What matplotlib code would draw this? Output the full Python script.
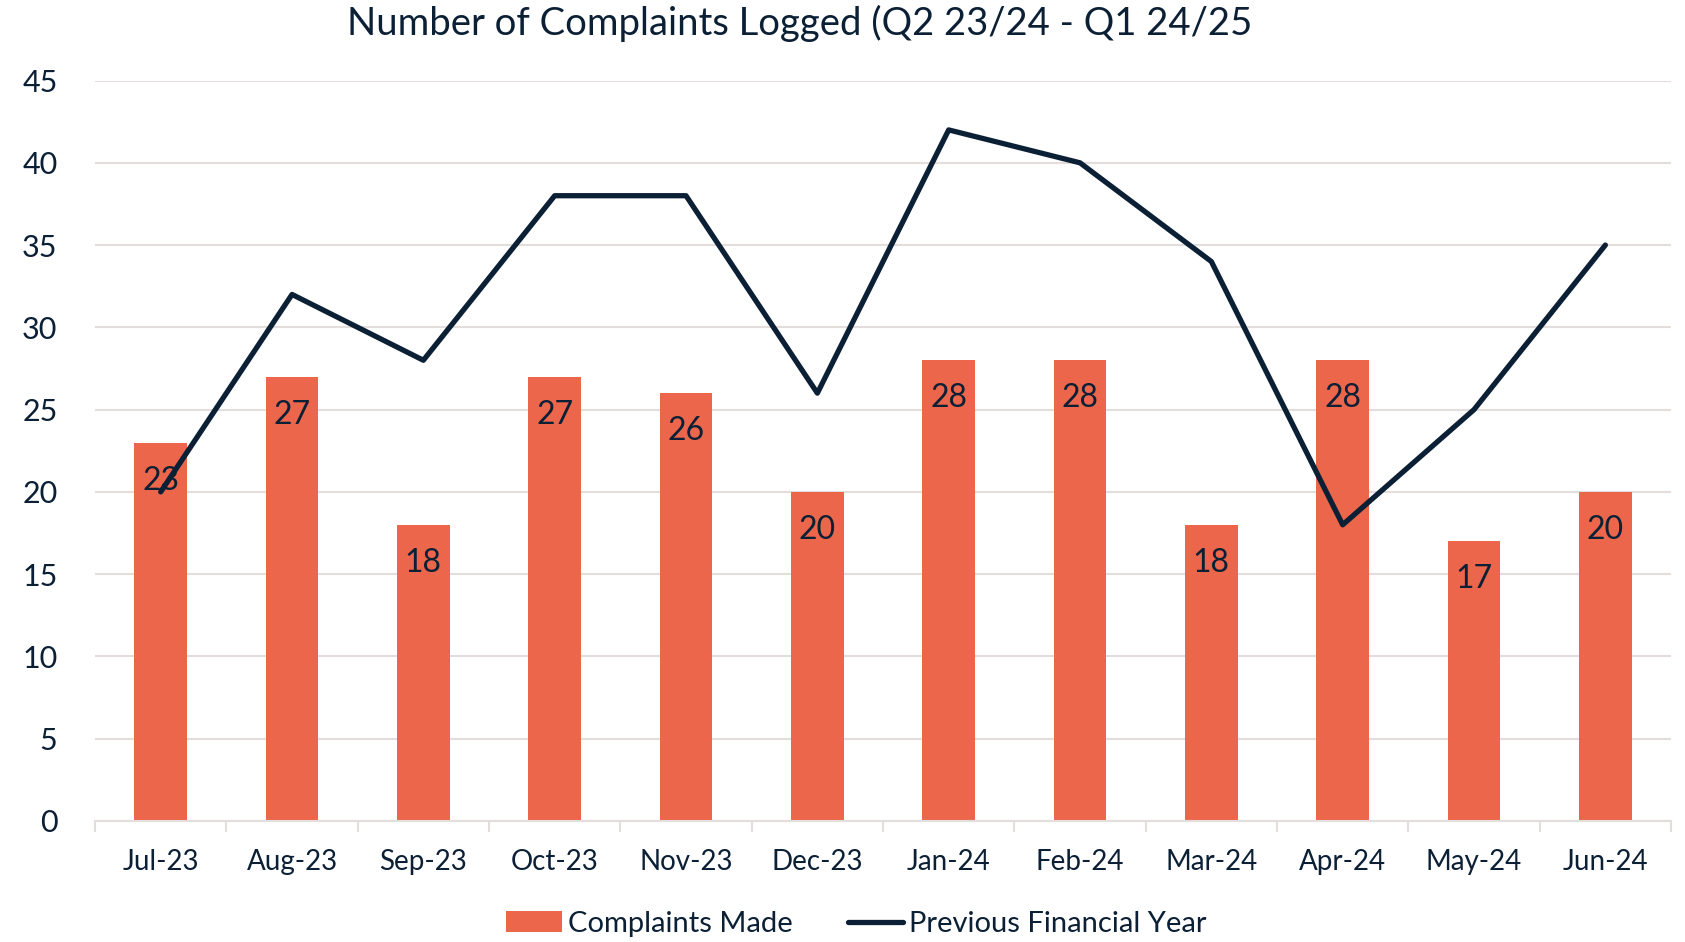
import matplotlib

matplotlib.use("Agg")
import matplotlib.pyplot as plt
import numpy as np

# data
months = ["Jul-23", "Aug-23", "Sep-23", "Oct-23", "Nov-23", "Dec-23",
          "Jan-24", "Feb-24", "Mar-24", "Apr-24", "May-24", "Jun-24"]
complaints = [23, 27, 18, 27, 26, 20, 28, 28, 18, 28, 17, 20]
prev_year = [20, 32, 28, 38, 38, 26, 42, 40, 34, 18, 25, 35]
y_ticks = [0, 5, 10, 15, 20, 25, 30, 35, 40, 45]

BAR = "#EC664B"
NAVY = "#0B1F35"
GRID = "#E3DEDB"

plt.rcParams["font.family"] = ["Lato", "DejaVu Sans"]

fig = plt.figure(figsize=(16.85, 9.42), dpi=100)
ax = fig.add_axes([0.0564, 0.1285, 0.9353, 0.786])

x = np.arange(len(months))
bars = ax.bar(x, complaints, width=0.4, color=BAR, zorder=2, label="Complaints Made")
line, = ax.plot(x, prev_year, color=NAVY, lw=3.8, zorder=3, solid_capstyle="round",
                label="Previous Financial Year")

for xi, v in zip(x, complaints):
    ax.annotate(str(v), (xi, v), xytext=(0, -34), textcoords="offset points",
                ha="center", va="baseline", fontsize=23, color=NAVY, zorder=4)

ax.set_xlim(-0.5, len(months) - 0.5)
ax.set_ylim(0, 45)
ax.set_yticks(y_ticks)
ax.set_xticks(x)
ax.set_xticklabels(months)
ax.set_xticks(np.arange(-0.5, len(months)), minor=True)
ax.yaxis.grid(True, color=GRID, lw=1.5, zorder=0)
ax.set_axisbelow(True)

for s in ["left", "right", "top"]:
    ax.spines[s].set_visible(False)
ax.spines["bottom"].set_color(GRID)
ax.spines["bottom"].set_linewidth(1.5)

ax.tick_params(axis="y", length=0, pad=27, labelsize=22, labelcolor=NAVY)
ax.tick_params(axis="x", which="major", length=0, pad=20, labelsize=20, labelcolor=NAVY)
ax.tick_params(axis="x", which="minor", length=8, width=1.5, color=GRID)

fig.text(744 / 1568, 0.975, "Number of Complaints Logged (Q2 23/24 - Q1 24/25",
         ha="center", va="center", fontsize=27.5, color=NAVY)

leg = fig.legend([bars, line], ["Complaints Made", "Previous Financial Year"],
                 loc="center", bbox_to_anchor=(797 / 1568, 1 - 860 / 877), ncol=2,
                 frameon=False, fontsize=21, handlelength=1.9, handletextpad=0.2,
                 columnspacing=1.9)
for t in leg.get_texts():
    t.set_color(NAVY)

fig.savefig("out.png", dpi=100)
